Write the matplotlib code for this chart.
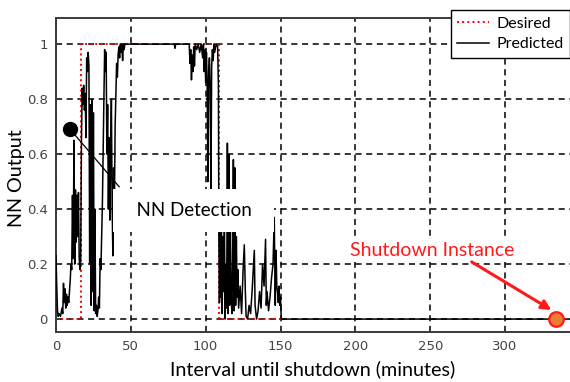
import numpy as np
import matplotlib
matplotlib.use("Agg")
import matplotlib.pyplot as plt

# --- data ---
desired_t = [0, 17, 17, 109, 109, 150]
desired_y = [0, 0, 1, 1, 0, 0]

pred_t = [0, 0.5, 1, 1.5, 2, 3, 4, 4.5, 5, 5.5, 6, 6.5, 7, 7.5, 8, 8.5, 9, 9.5,
          10, 10.5, 11, 11.5, 12, 12.5, 13, 13.5, 14, 14.5, 15, 15.5, 16, 16.5,
          17, 17.5, 18, 18.5, 19, 19.5, 20, 20.5, 21, 21.5, 22, 22.5, 23, 23.5,
          24, 24.5, 25, 25.5, 26, 26.5, 27, 27.5, 28, 28.5, 29, 29.5, 30, 30.5,
          31, 31.5, 32, 32.5, 33, 33.5, 34, 34.5, 35, 35.5, 36, 36.5, 37, 37.5,
          38, 38.5, 39, 39.5, 40, 40.5, 41, 41.5, 42, 42.5, 43, 43.5, 44, 44.5,
          45, 45.5, 46,
          79, 79.5, 80, 89, 89.5, 90, 90.5, 91, 91.5, 92, 92.5, 93, 94, 95, 96,
          97, 98, 98.5, 99, 99.5, 100, 100.5, 101, 101.5, 102, 102.5, 103, 103.5,
          104, 104.5, 105, 105.5, 106, 107, 108, 108.5, 108.8,
          109.2, 109.6, 110, 110.5, 111, 111.5, 112, 112.5, 113, 113.5, 114,
          114.5, 115, 115.5, 116, 116.5, 117, 117.5, 118, 118.5, 119, 119.5, 120,
          120.5, 121, 121.5, 122, 123, 124, 125, 125.8, 126.5, 127, 128, 129,
          130, 131, 132.5, 133, 134, 135, 136, 137, 138, 139, 140, 140.5, 141,
          142, 143, 144, 145, 145.8, 146.5, 147, 147.5, 148, 148.5, 149, 149.5,
          150, 150.5, 345]
pred_y = [0.23, 0.12, 0.03, 0.01, 0.02, 0.01, 0.04, 0.02, 0.13, 0.06, 0.11, 0.04,
          0.09, 0.05, 0.08, 0.06, 0.10, 0.14,
          0.20, 0.18, 0.45, 0.22, 0.65, 0.20, 0.47, 0.28, 0.45, 0.30, 0.46, 0.22,
          0.18, 0.22,
          0.65, 0.84, 0.78, 0.85, 0.76, 0.82, 0.66, 0.95, 0.90, 0.97, 0.92, 0.20,
          0.78, 0.05,
          0.80, 0.10, 0.75, 0.03, 0.40, 0.02, 0.05, 0.01, 0.03, 0.08, 0.04, 0.22,
          0.18, 0.30,
          0.42, 0.62, 0.80, 0.98, 0.90, 0.97, 0.60, 0.78, 0.40, 0.66, 0.36, 0.60,
          0.80, 0.42,
          0.23, 0.55, 0.40, 0.70, 0.82, 0.93, 0.88, 0.96, 0.99, 0.95, 1.0, 0.97,
          1.0, 0.94,
          1.0, 0.98, 1.0,
          1.0, 0.985, 1.0, 1.0, 0.93, 0.98, 0.87, 0.96, 0.90, 0.99, 0.92, 1.0,
          0.98, 1.0, 0.97,
          1.0, 0.95, 1.0, 0.90, 0.98, 0.86, 0.97, 0.85, 0.50, 0.90, 0.95, 0.84,
          0.47,
          0.92, 0.98, 0.94, 1.0, 0.97, 1.0, 0.99, 0.85, 0.30,
          0.06, 0.34, 0.08, 0.34, 0.02, 0.30, 0.10, 0.35, 0.0, 0.20, 0.04,
          0.64, 0.02, 0.60, 0.05, 0.33, 0.10, 0.02, 0.20, 0.58, 0.03, 0.55, 0.05,
          0.30, 0.08, 0.18, 0.04, 0.12, 0.02, 0.18, 0.27, 0.10, 0.01, 0.0, 0.05,
          0.02, 0.10, 0.25, 0.05, 0.0, 0.03, 0.10, 0.04, 0.20, 0.12, 0.29, 0.05,
          0.10,
          0.03, 0.08, 0.15, 0.20, 0.37, 0.05, 0.25, 0.12, 0.10, 0.06, 0.12, 0.05,
          0.08, 0.0, 0.0]

detect_pt = (9.5, 0.69)
shutdown_pt = (334, 0.0)
xticks = [0, 50, 100, 150, 200, 250, 300]
yticks = [0, 0.2, 0.4, 0.6, 0.8, 1]
ytick_labels = ["0", "0.2", "0.4", "0.6", "0.8", "1"]

TXT = "Lato"

fig = plt.figure(figsize=(5.7, 3.82), dpi=100)
ax = fig.add_axes([56 / 570, 50 / 382, 1.005 - 56 / 570, 314 / 382])

ax.plot(desired_t, desired_y, color="red", ls=":", lw=1.4, label="Desired", zorder=2)
ax.plot(pred_t, pred_y, color="black", lw=1.1, label="Predicted", zorder=3)

ax.set_xlim(0, 345.3)
ax.set_ylim(-0.047, 1.095)
ax.set_xticks(xticks)
ax.set_yticks(yticks, ytick_labels)
ax.tick_params(length=0, labelsize=9.5, labelcolor="#444444", pad=6)
ax.grid(True, color="black", ls=(0, (4, 3)), lw=1.1, zorder=1)
ax.set_axisbelow(True)
for s in ax.spines.values():
    s.set_color("#3a3a3a")
    s.set_linewidth(1.4)

ax.set_xlabel("Interval until shutdown (minutes)", fontsize=14.2, family=TXT)
ax.xaxis.set_label_coords(0.497, -0.09)
ax.set_ylabel("NN Output", fontsize=14.2, family=TXT)
ax.yaxis.set_label_coords(-0.06, 0.49)

# NN detection marker + pointer
ax.plot(*detect_pt, "o", color="black", ms=10, zorder=6)
ax.annotate("", xy=detect_pt, xytext=(43.5, 0.473),
            arrowprops=dict(arrowstyle="-", lw=0.9, color="black"), zorder=6)
ax.text(92, 0.396, "  NN Detection  ", fontsize=13.5, family=TXT,
        ha="center", va="center", zorder=5,
        bbox=dict(boxstyle="square,pad=0.7", fc="white", ec="none"))

# shutdown instance
ax.text(251, 0.251, "  Shutdown Instance  ", fontsize=14, family=TXT,
        color="#ff1a1a", ha="center", va="center", zorder=5,
        bbox=dict(boxstyle="square,pad=0.2", fc="white", ec="none"))
ax.annotate("", xy=(331, 0.033), xytext=(277.7, 0.208),
            arrowprops=dict(arrowstyle="-|>", lw=2.2, color="#ff1a1a",
                            mutation_scale=14, shrinkA=0, shrinkB=0), zorder=6)
ax.plot(*shutdown_pt, "o", mfc="#ed7d31", mec="#ff1a1a", mew=1.6, ms=10.5,
        zorder=7, clip_on=False)

leg = fig.legend(loc="upper left", bbox_to_anchor=(451 / 570, 1 - 10 / 382),
                 borderaxespad=0, fancybox=False, edgecolor="black",
                 framealpha=1, prop={"family": TXT, "size": 11.5},
                 handlelength=2.0, handletextpad=0.45, labelspacing=0.4,
                 borderpad=0.4)
leg.get_frame().set_linewidth(1.0)

fig.savefig("out.png", dpi=100)
